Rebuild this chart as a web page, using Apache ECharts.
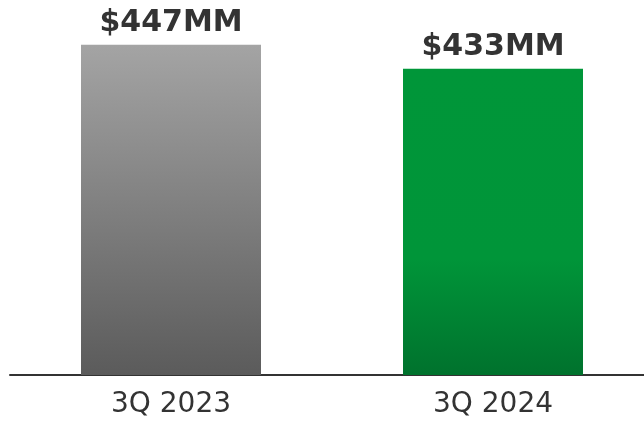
<!DOCTYPE html>
<html>
<head>
<meta charset="utf-8">
<script src="https://cdn.jsdelivr.net/npm/echarts@6/dist/echarts.min.js"></script>
<style>
html,body{margin:0;padding:0;background:#fff;}
#chart{width:644px;height:422px;}
</style>
</head>
<body>
<div id="chart"></div>
<script>
var categories = ['3Q 2023', '3Q 2024'];
var values = [447, 433];
var valueLabels = ['$447MM', '$433MM'];

var gradients = [
  new echarts.graphic.LinearGradient(0, 0, 0, 1, [
    {offset: 0, color: '#a4a4a4'},
    {offset: 1, color: '#5b5b5b'}
  ]),
  new echarts.graphic.LinearGradient(0, 0, 0, 1, [
    {offset: 0, color: '#009639'},
    {offset: 0.62, color: '#009539'},
    {offset: 1, color: '#00722d'}
  ])
];

var chart = echarts.init(document.getElementById('chart'), null, {renderer: 'canvas'});
chart.setOption({
  animation: false,
  grid: {left: 10, top: 0, right: -10, bottom: 47, containLabel: false, outerBoundsMode: 'none'},
  xAxis: {
    type: 'category',
    data: categories,
    axisLine: {show: true, lineStyle: {color: '#333333', width: 2}},
    axisTick: {show: false},
    axisLabel: {
      color: '#333333',
      fontFamily: 'DejaVu Sans',
      fontSize: 28,
      margin: 16
    }
  },
  yAxis: {
    type: 'value',
    min: 255,
    max: 473,
    show: false,
    splitLine: {show: false}
  },
  series: [{
    type: 'bar',
    barWidth: 180,
    data: values.map(function (v, i) {
      return {value: v, itemStyle: {color: gradients[i]}};
    }),
    label: {
      show: true,
      position: 'top',
      distance: 7,
      color: '#333333',
      fontFamily: 'DejaVu Sans',
      fontWeight: 'bold',
      fontSize: 30,
      formatter: function (p) { return valueLabels[p.dataIndex]; }
    }
  }]
});
</script>
</body>
</html>
